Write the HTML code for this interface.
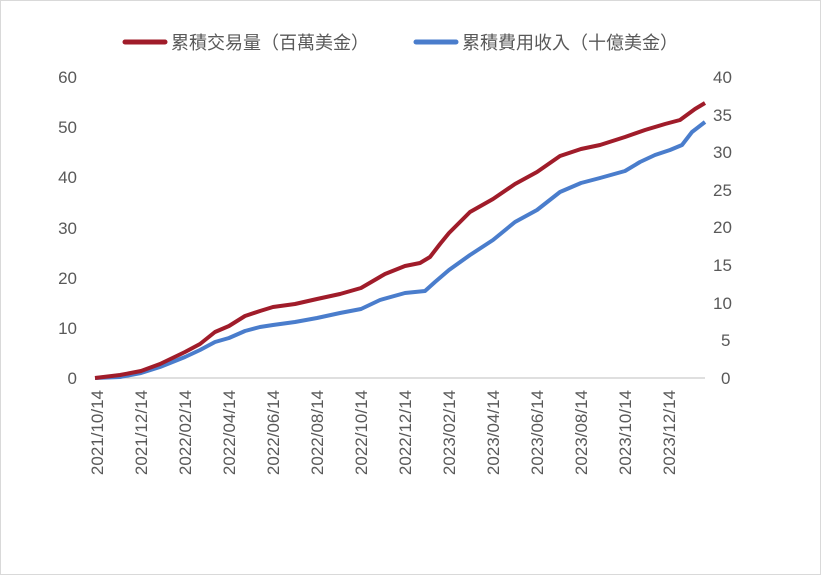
<!DOCTYPE html>
<html><head><meta charset="utf-8"><style>
html,body{margin:0;padding:0;background:#fff}
svg{display:block}
text{font-family:"Liberation Sans","Noto Sans CJK TC",sans-serif;fill:#595959}
</style></head><body>
<svg width="821" height="575" viewBox="0 0 821 575">
<rect x="0.5" y="0.5" width="820" height="574" fill="#fff" stroke="#d9d9d9"/>
<line x1="125" y1="42" x2="165" y2="42" stroke="#a01c2a" stroke-width="5" stroke-linecap="round"/>
<text x="171" y="49" font-size="18">累積交易量（百萬美金）</text>
<line x1="416" y1="42" x2="456" y2="42" stroke="#4a7dcc" stroke-width="5" stroke-linecap="round"/>
<text x="462" y="49" font-size="18">累積費用收入（十億美金）</text>
<line x1="95" y1="378" x2="705" y2="378" stroke="#bfbfbf" stroke-width="1"/>
<g font-size="17" text-anchor="end">
<text x="77" y="384">0</text><text x="77" y="334">10</text><text x="77" y="284">20</text>
<text x="77" y="234">30</text><text x="77" y="183">40</text><text x="77" y="133">50</text><text x="77" y="83">60</text>
</g>
<g font-size="17" text-anchor="start">
<text x="721" y="384">0</text><text x="721" y="346">5</text><text x="713" y="309">10</text>
<text x="713" y="271">15</text><text x="713" y="233">20</text><text x="713" y="196">25</text>
<text x="713" y="158">30</text><text x="713" y="121">35</text><text x="713" y="83">40</text>
</g>
<g font-size="17" text-anchor="end">
<text transform="translate(103,390) rotate(-90)">2021/10/14</text>
<text transform="translate(147,390) rotate(-90)">2021/12/14</text>
<text transform="translate(191,390) rotate(-90)">2022/02/14</text>
<text transform="translate(235,390) rotate(-90)">2022/04/14</text>
<text transform="translate(279,390) rotate(-90)">2022/06/14</text>
<text transform="translate(323,390) rotate(-90)">2022/08/14</text>
<text transform="translate(367,390) rotate(-90)">2022/10/14</text>
<text transform="translate(411,390) rotate(-90)">2022/12/14</text>
<text transform="translate(455,390) rotate(-90)">2023/02/14</text>
<text transform="translate(499,390) rotate(-90)">2023/04/14</text>
<text transform="translate(543,390) rotate(-90)">2023/06/14</text>
<text transform="translate(587,390) rotate(-90)">2023/08/14</text>
<text transform="translate(631,390) rotate(-90)">2023/10/14</text>
<text transform="translate(675,390) rotate(-90)">2023/12/14</text>
</g>
<polyline fill="none" stroke="#4a7dcc" stroke-width="4" stroke-linejoin="round" points="95,378 120,377 141,373 160,367 185,357 200,350 215,342 229,338 245,331 260,327 273,325 295,322 317,318 340,313 361,309 380,300 405,293 425,291 435,282 449,270 470,255 493,240 515,222 537,210 560,192 581,183 600,178 625,171 640,162 655,155 670,150 682,145 692,132 705,122"/>
<polyline fill="none" stroke="#a01c2a" stroke-width="4" stroke-linejoin="round" points="95,378 120,375 141,371 160,364 185,352 200,344 215,332 229,326 245,316 260,311 273,307 295,304 317,299 340,294 361,288 385,274 405,266 420,263 430,257 440,244 449,233 470,212 493,199 515,184 537,172 560,156 581,149 600,145 625,137 645,130 665,124 680,120 695,109 705,103"/>
</svg>
</body></html>
